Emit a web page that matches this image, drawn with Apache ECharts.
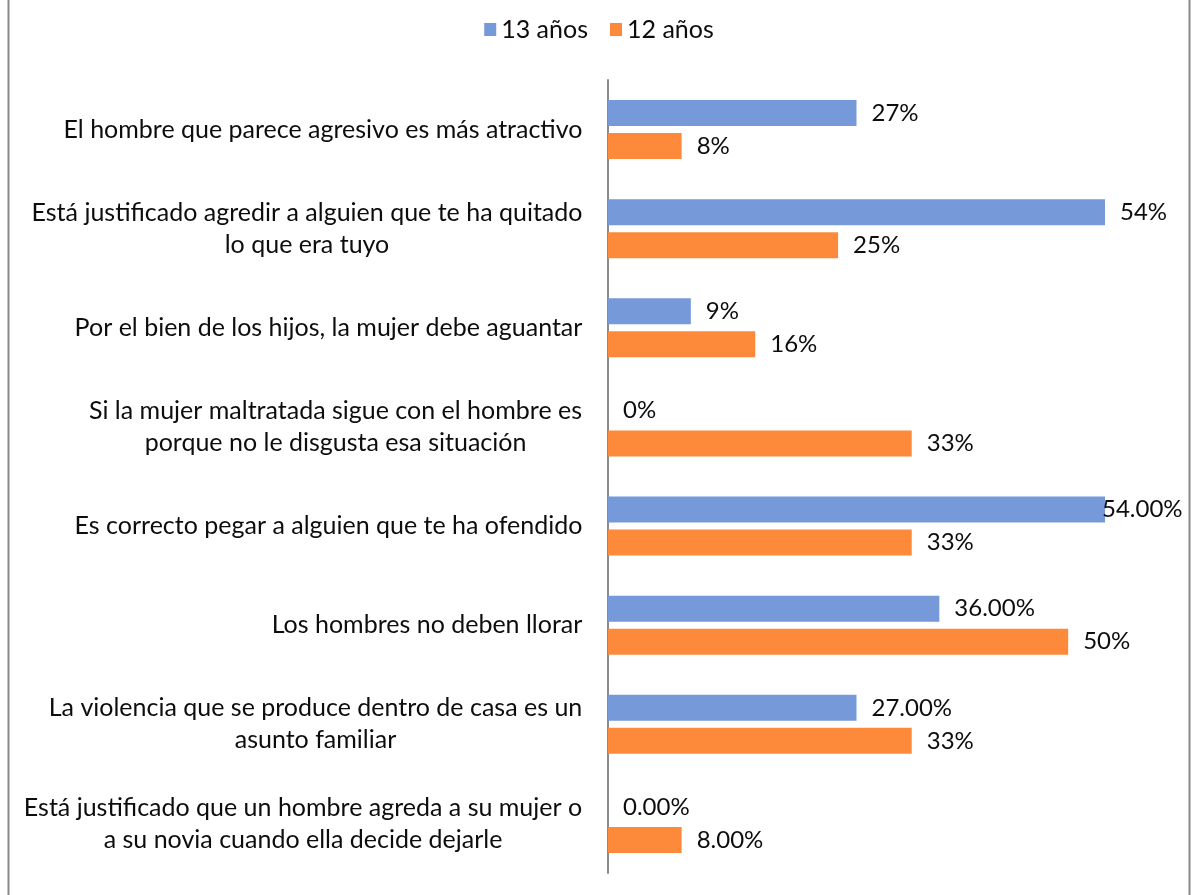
<!DOCTYPE html>
<html>
<head>
<meta charset="utf-8">
<script src="https://cdn.jsdelivr.net/npm/echarts@6/dist/echarts.min.js"></script>
<style>
html,body{margin:0;padding:0;background:#fff;}
#c{width:1198px;height:895px;}
</style>
</head>
<body>
<div id="c"></div>
<script>
var categories = [
  "El hombre que parece agresivo es más atractivo",
  "Está justificado agredir a alguien que te ha quitado\nlo que era tuyo",
  "Por el bien de los hijos, la mujer debe aguantar",
  "Si la mujer maltratada sigue con el hombre es\nporque no le disgusta esa situación",
  "Es correcto pegar a alguien que te ha ofendido",
  "Los hombres no deben llorar",
  "La violencia que se produce dentro de casa es un\nasunto familiar",
  "Está justificado que un hombre agreda a su mujer o\na su novia cuando ella decide dejarle"
];
var seriesNames = ["13 años", "12 años"];
var values13 = [27, 54, 9, 0, 54, 36, 27, 0];
var values12 = [8, 25, 16, 33, 33, 50, 33, 8];
var decimals13 = [0, 0, 0, 0, 2, 2, 2, 2];
var decimals12 = [0, 0, 0, 0, 0, 0, 0, 2];
var axisMax = 54;

var FONT = "Lato";
var CAT_SIZE = 25;
function buildData(vals, decs) {
  return vals.map(function (v, i) {
    var item = { value: v, dec: decs[i] };
    if (v >= axisMax && decs[i] > 0) { item.label = { distance: -3 }; }
    return item;
  });
}
function fmt(p) { return p.value.toFixed(p.data.dec) + "%"; }

// per-label rich styles: lines centered within a block as wide as the longest line
var ctx = document.createElement('canvas').getContext('2d');
ctx.font = CAT_SIZE + "px " + FONT;
var rich = {};
categories.forEach(function (c, i) {
  var w = 0;
  c.split("\n").forEach(function (s) { w = Math.max(w, ctx.measureText(s).width); });
  rich['l' + i] = { width: Math.ceil(w) + 1, align: 'center', fontFamily: FONT, fontSize: CAT_SIZE, lineHeight: 32, color: '#0d0d0d' };
});

var chart = echarts.init(document.getElementById('c'));
var labelStyle = { show: true, position: 'right', distance: 15, formatter: fmt,
  fontFamily: FONT, fontSize: 24, color: '#0d0d0d' };
chart.setOption({
  animation: false,
  backgroundColor: '#fff',
  graphic: [{ type: 'rect', shape: { x: 8.5, y: -10, width: 1181, height: 920 },
    style: { fill: 'none', stroke: '#8a8a8a', lineWidth: 2 }, silent: true }],
  legend: {
    top: 12, left: 'center', itemWidth: 12, itemHeight: 13, itemGap: 22, icon: 'rect',
    textStyle: { fontFamily: FONT, fontSize: 25, color: '#0d0d0d' },
    data: seriesNames
  },
  grid: { left: 608, right: 93, top: 80, bottom: 22, containLabel: false },
  xAxis: { type: 'value', min: 0, max: axisMax, show: false },
  yAxis: {
    type: 'category', data: categories, inverse: true,
    axisLine: { show: true, lineStyle: { color: '#8a8a8a', width: 2 } },
    axisTick: { show: false },
    axisLabel: { margin: 25, align: 'right', color: '#0d0d0d',
      formatter: function (v, idx) {
        return v.split("\n").map(function (s) { return "{l" + idx + "|" + s + "}"; }).join("\n");
      },
      rich: rich
    }
  },
  series: [
    { name: seriesNames[0], type: 'bar', data: buildData(values13, decimals13), barWidth: 26, barGap: '27%',
      itemStyle: { color: '#7599d9' }, label: labelStyle },
    { name: seriesNames[1], type: 'bar', data: buildData(values12, decimals12), barWidth: 26, barGap: '27%',
      itemStyle: { color: '#fc8a3a' }, label: labelStyle }
  ]
});
</script>
</body>
</html>
